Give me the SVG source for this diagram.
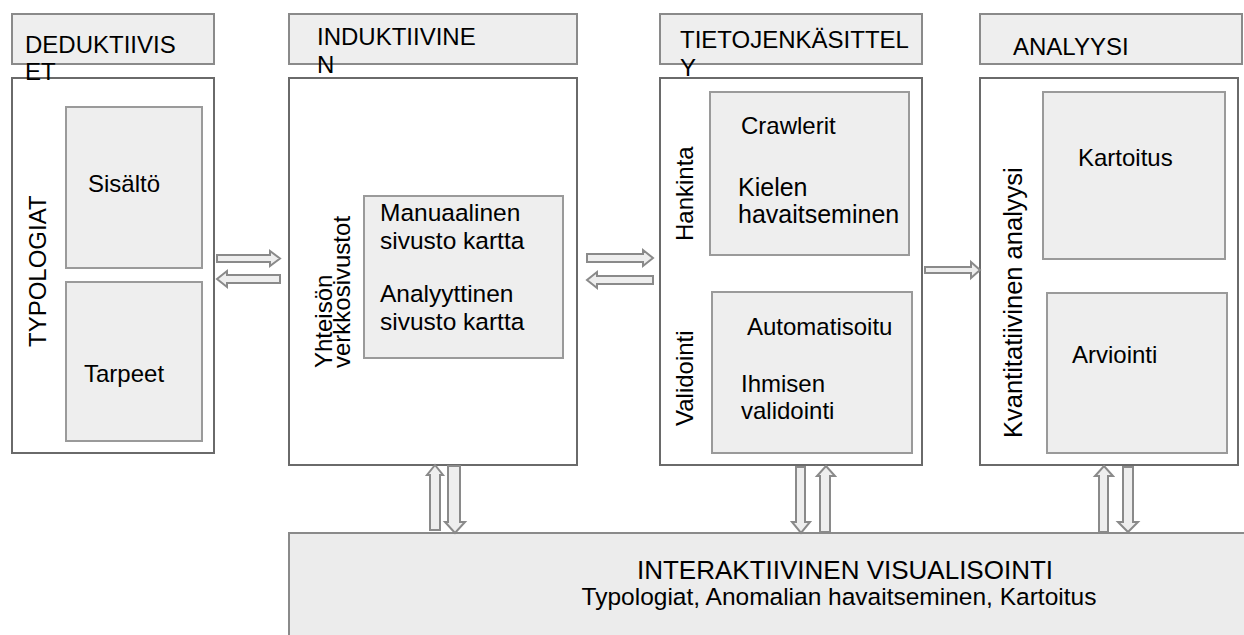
<svg xmlns="http://www.w3.org/2000/svg" width="1244" height="635" viewBox="0 0 1244 635">
<style>
text{font-family:"Liberation Sans",Arial,sans-serif;font-size:24px;fill:#000}
.hdr{fill:#eeeeee;stroke:#8a8a8a;stroke-width:2}
.main{fill:#ffffff;stroke:#6a6a6a;stroke-width:2}
.inner{fill:#eeeeee;stroke:#9a9a9a;stroke-width:2}
.bot{fill:#ececec;stroke:#8a8a8a;stroke-width:2}
.arr{fill:#eeeeee;stroke:#8a8a8a;stroke-width:2;stroke-linejoin:miter}
</style>
<rect width="1244" height="635" fill="#ffffff"/>
<g id="deduktiiviset">
<rect class="hdr" x="12" y="14" width="202" height="50"/>
<rect class="main" x="12" y="78" width="202" height="375"/>
<rect class="inner" x="66" y="107" width="136" height="161"/>
<rect class="inner" x="66" y="282" width="136" height="159"/>
<text x="25" y="53">DEDUKTIIVIS</text>
<text x="25" y="80">ET</text>
<text transform="translate(46,347) rotate(-90)">TYPOLOGIAT</text>
<text x="88" y="192">Sisältö</text>
<text x="84" y="382">Tarpeet</text>
</g>
<g id="induktiivinen">
<rect class="hdr" x="289" y="14" width="288" height="50"/>
<rect class="main" x="289" y="78" width="288" height="387"/>
<rect class="inner" x="364" y="196" width="199" height="162"/>
<text x="317" y="45">INDUKTIIVINE</text>
<text x="317" y="73">N</text>
<text transform="translate(332,368) rotate(-90)">Yhteisön</text>
<text transform="translate(350,368) rotate(-90)">verkkosivustot</text>
<text x="380" y="221" style="font-size:24.5px">Manuaalinen</text>
<text x="380" y="249" style="font-size:24.5px">sivusto kartta</text>
<text x="380" y="302" style="font-size:24.5px">Analyyttinen</text>
<text x="380" y="330" style="font-size:24.5px">sivusto kartta</text>
</g>
<g id="tietojenkasittely">
<rect class="hdr" x="660" y="14" width="262" height="50"/>
<rect class="main" x="660" y="78" width="262" height="387"/>
<rect class="inner" x="710" y="92" width="199" height="163"/>
<rect class="inner" x="712" y="292" width="200" height="161"/>
<text x="680" y="48">TIETOJENKÄSITTEL</text>
<text x="680" y="76">Y</text>
<text transform="translate(693,241) rotate(-90)">Hankinta</text>
<text transform="translate(693,426) rotate(-90)">Validointi</text>
<text x="741" y="134">Crawlerit</text>
<text x="738" y="196" style="font-size:25px">Kielen</text>
<text x="738" y="223" style="font-size:25px">havaitseminen</text>
<text x="747" y="335">Automatisoitu</text>
<text x="741" y="392">Ihmisen</text>
<text x="741" y="419">validointi</text>
</g>
<g id="analyysi">
<rect class="hdr" x="980" y="14" width="262" height="50"/>
<rect class="main" x="980" y="78" width="258" height="387"/>
<rect class="inner" x="1043" y="92" width="182" height="167"/>
<rect class="inner" x="1047" y="293" width="180" height="160"/>
<text x="1013" y="55">ANALYYSI</text>
<text transform="translate(1022,438) rotate(-90)" style="font-size:25.5px">Kvantitatiivinen analyysi</text>
<text x="1078" y="166">Kartoitus</text>
<text x="1072" y="363">Arviointi</text>
</g>
<g id="visualisointi">
<rect class="bot" x="289" y="533" width="970" height="120"/>
<text x="845" y="579" text-anchor="middle" style="font-size:26px">INTERAKTIIVINEN VISUALISOINTI</text>
<text x="839" y="605" text-anchor="middle" style="font-size:24.5px">Typologiat, Anomalian havaitseminen, Kartoitus</text>
</g>
<g id="connectors">
<path class="arr" d="M217,255 H270 V251 L280,258.5 L270,266 V262 H217 Z"/>
<path class="arr" d="M280,275 H227 V271 L217,279 L227,287 V283 H280 Z"/>
<path class="arr" d="M587,254 H643 V250 L653,258 L643,266 V262 H587 Z"/>
<path class="arr" d="M653,276 H597 V272 L587,280 L597,288 V284 H653 Z"/>
<path class="arr" d="M925,267 H971 V262 L980,270 L971,278 V273 H925 Z"/>
<path class="arr" d="M430,530 V475 H427 L435,465 L443,475 H440 V530 Z"/>
<path class="arr" d="M448,466 V522 H445 L455,533 L465,522 H460 V466 Z"/>
<path class="arr" d="M796,467 V522 H792 L801,533 L810,522 H805 V467 Z"/>
<path class="arr" d="M820,532 V476 H817 L826,466 L835,476 H830 V532 Z"/>
<path class="arr" d="M1099,532 V476 H1095 L1104,466 L1113,476 H1108 V532 Z"/>
<path class="arr" d="M1123,467 V522 H1118 L1128,532 L1138,522 H1133 V467 Z"/>
</g>
</svg>
